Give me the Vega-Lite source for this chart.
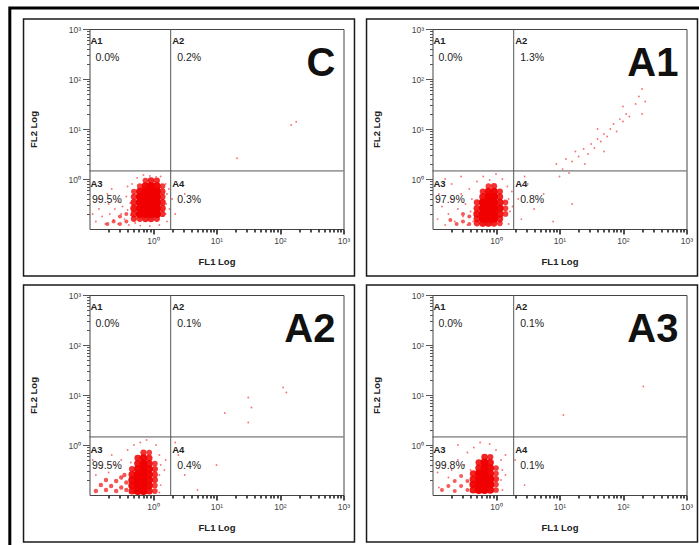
{
  "$schema": "https://vega.github.io/schema/vega-lite/v6.json",
  "padding": {"left": 7.5, "top": 5, "right": 0, "bottom": 0},
  "background": "white",
  "data": {"values": [
    {"p":"C","q":"A1","v":"0.0%"},{"p":"C","q":"A2","v":"0.2%"},{"p":"C","q":"A3","v":"99.5%"},{"p":"C","q":"A4","v":"0.3%"},
    {"p":"A1","q":"A1","v":"0.0%"},{"p":"A1","q":"A2","v":"1.3%"},{"p":"A1","q":"A3","v":"97.9%"},{"p":"A1","q":"A4","v":"0.8%"},
    {"p":"A2","q":"A1","v":"0.0%"},{"p":"A2","q":"A2","v":"0.1%"},{"p":"A2","q":"A3","v":"99.5%"},{"p":"A2","q":"A4","v":"0.4%"},
    {"p":"A3","q":"A1","v":"0.0%"},{"p":"A3","q":"A2","v":"0.1%"},{"p":"A3","q":"A3","v":"99.8%"},{"p":"A3","q":"A4","v":"0.1%"},

    {"p":"C","x":0.5,"y":0.16,"n":12},{"p":"C","x":0.62,"y":0.16,"n":12},{"p":"C","x":0.76,"y":0.16,"n":14},{"p":"C","x":0.93,"y":0.16,"n":14},{"p":"C","x":1.15,"y":0.16,"n":12},
    {"p":"C","x":0.5,"y":0.2,"n":14},{"p":"C","x":0.62,"y":0.2,"n":20},{"p":"C","x":0.76,"y":0.2,"n":20},{"p":"C","x":0.93,"y":0.2,"n":20},{"p":"C","x":1.15,"y":0.2,"n":20},{"p":"C","x":1.41,"y":0.2,"n":12},
    {"p":"C","x":0.5,"y":0.26,"n":16},{"p":"C","x":0.62,"y":0.26,"n":20},{"p":"C","x":0.76,"y":0.26,"n":20},{"p":"C","x":0.93,"y":0.26,"n":20},{"p":"C","x":1.15,"y":0.26,"n":20},{"p":"C","x":1.41,"y":0.26,"n":14},
    {"p":"C","x":0.5,"y":0.34,"n":14},{"p":"C","x":0.62,"y":0.34,"n":20},{"p":"C","x":0.76,"y":0.34,"n":20},{"p":"C","x":0.93,"y":0.34,"n":20},{"p":"C","x":1.15,"y":0.34,"n":20},{"p":"C","x":1.41,"y":0.34,"n":14},
    {"p":"C","x":0.5,"y":0.44,"n":12},{"p":"C","x":0.62,"y":0.44,"n":20},{"p":"C","x":0.76,"y":0.44,"n":20},{"p":"C","x":0.93,"y":0.44,"n":20},{"p":"C","x":1.15,"y":0.44,"n":20},{"p":"C","x":1.41,"y":0.44,"n":12},
    {"p":"C","x":0.5,"y":0.56,"n":10},{"p":"C","x":0.62,"y":0.56,"n":18},{"p":"C","x":0.76,"y":0.56,"n":20},{"p":"C","x":0.93,"y":0.56,"n":20},{"p":"C","x":1.15,"y":0.56,"n":20},{"p":"C","x":1.41,"y":0.56,"n":12},
    {"p":"C","x":0.62,"y":0.72,"n":10},{"p":"C","x":0.76,"y":0.72,"n":18},{"p":"C","x":0.93,"y":0.72,"n":20},{"p":"C","x":1.15,"y":0.72,"n":18},{"p":"C","x":1.41,"y":0.72,"n":10},
    {"p":"C","x":0.76,"y":0.93,"n":10},{"p":"C","x":0.93,"y":0.93,"n":14},{"p":"C","x":1.15,"y":0.93,"n":12},
    {"p":"C","x":0.38,"y":0.141,"n":5},{"p":"C","x":0.38,"y":0.2,"n":5},{"p":"C","x":0.302,"y":0.126,"n":5},{"p":"C","x":0.302,"y":0.178,"n":5},{"p":"C","x":0.24,"y":0.141,"n":5},{"p":"C","x":0.191,"y":0.126,"n":5},
    {"p":"C","x":0.126,"y":0.141,"n":1},{"p":"C","x":0.141,"y":0.251,"n":1},{"p":"C","x":0.158,"y":0.178,"n":1},{"p":"C","x":0.178,"y":0.126,"n":1},{"p":"C","x":0.2,"y":0.316,"n":1},
    {"p":"C","x":0.209,"y":0.2,"n":1},{"p":"C","x":0.24,"y":0.151,"n":1},{"p":"C","x":0.251,"y":0.251,"n":1},{"p":"C","x":0.282,"y":0.355,"n":1},{"p":"C","x":0.282,"y":0.126,"n":1},
    {"p":"C","x":0.316,"y":0.2,"n":1},{"p":"C","x":0.331,"y":0.282,"n":1},{"p":"C","x":0.355,"y":0.158,"n":1},{"p":"C","x":0.38,"y":0.447,"n":1},{"p":"C","x":0.398,"y":0.24,"n":1},
    {"p":"C","x":0.417,"y":0.12,"n":1},{"p":"C","x":0.437,"y":0.331,"n":1},{"p":"C","x":0.447,"y":0.191,"n":1},{"p":"C","x":0.398,"y":0.708,"n":1},{"p":"C","x":0.468,"y":0.794,"n":1},
    {"p":"C","x":0.562,"y":1.05,"n":1},{"p":"C","x":0.708,"y":1.2,"n":1},{"p":"C","x":0.891,"y":1.15,"n":1},{"p":"C","x":1.12,"y":1.1,"n":1},{"p":"C","x":1.32,"y":1.12,"n":1},
    {"p":"C","x":1.58,"y":0.794,"n":1},{"p":"C","x":1.66,"y":0.501,"n":1},{"p":"C","x":1.62,"y":0.316,"n":1},{"p":"C","x":1.58,"y":0.2,"n":1},{"p":"C","x":1.66,"y":0.141,"n":1},
    {"p":"C","x":1.78,"y":0.631,"n":1},{"p":"C","x":1.82,"y":0.251,"n":1},{"p":"C","x":1.26,"y":0.12,"n":1},{"p":"C","x":0.891,"y":0.115,"n":1},{"p":"C","x":0.631,"y":0.117,"n":1},
    {"p":"C","x":0.525,"y":0.132,"n":1},{"p":"C","x":0.191,"y":0.501,"n":1},{"p":"C","x":0.141,"y":0.398,"n":1},{"p":"C","x":0.112,"y":0.2,"n":1},{"p":"C","x":0.224,"y":0.631,"n":1},
    {"p":"C","x":2.0,"y":0.398,"n":1},{"p":"C","x":2.24,"y":0.2,"n":1},{"p":"C","x":3.16,"y":0.5,"n":1},{"p":"C","x":150,"y":12,"n":1},{"p":"C","x":21,"y":2.6,"n":1},{"p":"C","x":180,"y":14,"n":1},

    {"p":"A1","x":0.5,"y":0.13,"n":12},{"p":"A1","x":0.62,"y":0.13,"n":16},{"p":"A1","x":0.76,"y":0.13,"n":16},{"p":"A1","x":0.93,"y":0.13,"n":14},{"p":"A1","x":1.15,"y":0.13,"n":10},
    {"p":"A1","x":0.5,"y":0.16,"n":14},{"p":"A1","x":0.62,"y":0.16,"n":20},{"p":"A1","x":0.76,"y":0.16,"n":20},{"p":"A1","x":0.93,"y":0.16,"n":20},{"p":"A1","x":1.15,"y":0.16,"n":14},
    {"p":"A1","x":0.5,"y":0.2,"n":16},{"p":"A1","x":0.62,"y":0.2,"n":20},{"p":"A1","x":0.76,"y":0.2,"n":20},{"p":"A1","x":0.93,"y":0.2,"n":20},{"p":"A1","x":1.15,"y":0.2,"n":16},{"p":"A1","x":1.41,"y":0.2,"n":10},
    {"p":"A1","x":0.5,"y":0.26,"n":14},{"p":"A1","x":0.62,"y":0.26,"n":20},{"p":"A1","x":0.76,"y":0.26,"n":20},{"p":"A1","x":0.93,"y":0.26,"n":20},{"p":"A1","x":1.15,"y":0.26,"n":18},{"p":"A1","x":1.41,"y":0.26,"n":10},
    {"p":"A1","x":0.5,"y":0.34,"n":12},{"p":"A1","x":0.62,"y":0.34,"n":20},{"p":"A1","x":0.76,"y":0.34,"n":20},{"p":"A1","x":0.93,"y":0.34,"n":20},{"p":"A1","x":1.15,"y":0.34,"n":16},{"p":"A1","x":1.41,"y":0.34,"n":10},
    {"p":"A1","x":0.62,"y":0.44,"n":16},{"p":"A1","x":0.76,"y":0.44,"n":20},{"p":"A1","x":0.93,"y":0.44,"n":20},{"p":"A1","x":1.15,"y":0.44,"n":14},
    {"p":"A1","x":0.62,"y":0.56,"n":12},{"p":"A1","x":0.76,"y":0.56,"n":18},{"p":"A1","x":0.93,"y":0.56,"n":18},{"p":"A1","x":1.15,"y":0.56,"n":12},
    {"p":"A1","x":0.76,"y":0.72,"n":10},{"p":"A1","x":0.93,"y":0.72,"n":12},
    {"p":"A1","x":0.38,"y":0.126,"n":5},{"p":"A1","x":0.38,"y":0.178,"n":5},{"p":"A1","x":0.302,"y":0.141,"n":5},{"p":"A1","x":0.302,"y":0.2,"n":5},{"p":"A1","x":0.24,"y":0.126,"n":5},{"p":"A1","x":0.191,"y":0.151,"n":5},
    {"p":"A1","x":0.12,"y":0.158,"n":1},{"p":"A1","x":0.141,"y":0.282,"n":1},{"p":"A1","x":0.158,"y":0.12,"n":1},{"p":"A1","x":0.178,"y":0.2,"n":1},{"p":"A1","x":0.2,"y":0.398,"n":1},
    {"p":"A1","x":0.224,"y":0.141,"n":1},{"p":"A1","x":0.251,"y":0.251,"n":1},{"p":"A1","x":0.282,"y":0.501,"n":1},{"p":"A1","x":0.302,"y":0.178,"n":1},{"p":"A1","x":0.331,"y":0.316,"n":1},
    {"p":"A1","x":0.355,"y":0.12,"n":1},{"p":"A1","x":0.38,"y":0.631,"n":1},{"p":"A1","x":0.398,"y":0.224,"n":1},{"p":"A1","x":0.417,"y":0.398,"n":1},{"p":"A1","x":0.437,"y":0.141,"n":1},
    {"p":"A1","x":0.501,"y":0.891,"n":1},{"p":"A1","x":0.631,"y":1.12,"n":1},{"p":"A1","x":0.794,"y":0.955,"n":1},{"p":"A1","x":1,"y":1.26,"n":1},{"p":"A1","x":1.26,"y":1,"n":1},
    {"p":"A1","x":1.51,"y":0.708,"n":1},{"p":"A1","x":1.58,"y":0.398,"n":1},{"p":"A1","x":1.66,"y":0.224,"n":1},{"p":"A1","x":1.58,"y":0.126,"n":1},{"p":"A1","x":1.78,"y":0.562,"n":1},
    {"p":"A1","x":1.82,"y":0.282,"n":1},{"p":"A1","x":0.126,"y":0.501,"n":1},{"p":"A1","x":0.2,"y":0.794,"n":1},{"p":"A1","x":0.282,"y":1.12,"n":1},{"p":"A1","x":0.158,"y":1,"n":1},
    {"p":"A1","x":2.24,"y":0.398,"n":1},{"p":"A1","x":2.51,"y":0.158,"n":1},{"p":"A1","x":3.16,"y":0.794,"n":1},{"p":"A1","x":3.98,"y":0.251,"n":1},{"p":"A1","x":5.62,"y":0.501,"n":1},
    {"p":"A1","x":7.94,"y":0.141,"n":1},{"p":"A1","x":15.8,"y":0.316,"n":1},{"p":"A1","x":2.82,"y":1.12,"n":1},
    {"p":"A1","x":8.91,"y":2.0,"n":1},{"p":"A1","x":11.2,"y":1.58,"n":1},{"p":"A1","x":12.6,"y":2.51,"n":1},{"p":"A1","x":15.8,"y":2.24,"n":1},{"p":"A1","x":17.8,"y":3.55,"n":1},
    {"p":"A1","x":20,"y":2.82,"n":1},{"p":"A1","x":24,"y":3.98,"n":1},{"p":"A1","x":28.2,"y":3.16,"n":1},{"p":"A1","x":31.6,"y":5.01,"n":1},{"p":"A1","x":35.5,"y":4.17,"n":1},
    {"p":"A1","x":39.8,"y":6.31,"n":1},{"p":"A1","x":44.7,"y":5.62,"n":1},{"p":"A1","x":50.1,"y":7.94,"n":1},{"p":"A1","x":56.2,"y":7.08,"n":1},{"p":"A1","x":63.1,"y":10,"n":1},
    {"p":"A1","x":70.8,"y":12.6,"n":1},{"p":"A1","x":79.4,"y":8.91,"n":1},{"p":"A1","x":89.1,"y":15.8,"n":1},{"p":"A1","x":100,"y":14.1,"n":1},{"p":"A1","x":112,"y":20,"n":1},
    {"p":"A1","x":126,"y":17.8,"n":1},{"p":"A1","x":158,"y":31.6,"n":1},{"p":"A1","x":178,"y":44.7,"n":1},{"p":"A1","x":200,"y":63.1,"n":1},{"p":"A1","x":224,"y":35.5,"n":1},
    {"p":"A1","x":200,"y":20,"n":1},{"p":"A1","x":25.1,"y":2.0,"n":1},{"p":"A1","x":50.1,"y":3.55,"n":1},{"p":"A1","x":10,"y":1.12,"n":1},{"p":"A1","x":14.1,"y":1.32,"n":1},
    {"p":"A1","x":100,"y":28.2,"n":1},{"p":"A1","x":39.8,"y":10,"n":1},

    {"p":"A2","x":0.468,"y":0.12,"n":16},{"p":"A2","x":0.575,"y":0.12,"n":20},{"p":"A2","x":0.708,"y":0.12,"n":20},{"p":"A2","x":0.871,"y":0.12,"n":16},{"p":"A2","x":1.07,"y":0.12,"n":10},
    {"p":"A2","x":0.468,"y":0.155,"n":18},{"p":"A2","x":0.575,"y":0.155,"n":20},{"p":"A2","x":0.708,"y":0.155,"n":20},{"p":"A2","x":0.871,"y":0.155,"n":18},{"p":"A2","x":1.07,"y":0.155,"n":10},
    {"p":"A2","x":0.468,"y":0.2,"n":18},{"p":"A2","x":0.575,"y":0.2,"n":20},{"p":"A2","x":0.708,"y":0.2,"n":20},{"p":"A2","x":0.871,"y":0.2,"n":18},{"p":"A2","x":1.07,"y":0.2,"n":12},
    {"p":"A2","x":0.468,"y":0.257,"n":16},{"p":"A2","x":0.575,"y":0.257,"n":20},{"p":"A2","x":0.708,"y":0.257,"n":20},{"p":"A2","x":0.871,"y":0.257,"n":18},{"p":"A2","x":1.07,"y":0.257,"n":12},
    {"p":"A2","x":0.468,"y":0.331,"n":12},{"p":"A2","x":0.575,"y":0.331,"n":18},{"p":"A2","x":0.708,"y":0.331,"n":20},{"p":"A2","x":0.871,"y":0.331,"n":18},{"p":"A2","x":1.07,"y":0.331,"n":12},
    {"p":"A2","x":0.575,"y":0.427,"n":16},{"p":"A2","x":0.708,"y":0.427,"n":20},{"p":"A2","x":0.871,"y":0.427,"n":16},{"p":"A2","x":1.07,"y":0.427,"n":10},
    {"p":"A2","x":0.575,"y":0.55,"n":14},{"p":"A2","x":0.708,"y":0.55,"n":18},{"p":"A2","x":0.871,"y":0.55,"n":14},
    {"p":"A2","x":0.708,"y":0.708,"n":12},{"p":"A2","x":0.871,"y":0.708,"n":10},
    {"p":"A2","x":0.38,"y":0.126,"n":6},{"p":"A2","x":0.38,"y":0.178,"n":6},{"p":"A2","x":0.316,"y":0.141,"n":6},{"p":"A2","x":0.316,"y":0.224,"n":6},{"p":"A2","x":0.263,"y":0.12,"n":6},{"p":"A2","x":0.263,"y":0.191,"n":6},
    {"p":"A2","x":0.219,"y":0.151,"n":6},{"p":"A2","x":0.182,"y":0.126,"n":6},{"p":"A2","x":0.182,"y":0.2,"n":6},{"p":"A2","x":0.151,"y":0.158,"n":6},{"p":"A2","x":0.126,"y":0.12,"n":6},{"p":"A2","x":0.355,"y":0.251,"n":6},
    {"p":"A2","x":0.126,"y":0.251,"n":1},{"p":"A2","x":0.158,"y":0.355,"n":1},{"p":"A2","x":0.2,"y":0.282,"n":1},{"p":"A2","x":0.251,"y":0.398,"n":1},{"p":"A2","x":0.316,"y":0.501,"n":1},
    {"p":"A2","x":0.398,"y":0.794,"n":1},{"p":"A2","x":0.501,"y":1,"n":1},{"p":"A2","x":0.631,"y":1.12,"n":1},{"p":"A2","x":0.794,"y":1.26,"n":1},{"p":"A2","x":1.12,"y":1,"n":1},
    {"p":"A2","x":1.26,"y":0.631,"n":1},{"p":"A2","x":1.32,"y":0.398,"n":1},{"p":"A2","x":1.26,"y":0.251,"n":1},{"p":"A2","x":1.32,"y":0.158,"n":1},{"p":"A2","x":1.26,"y":0.112,"n":1},
    {"p":"A2","x":1.51,"y":0.316,"n":1},{"p":"A2","x":1.58,"y":0.501,"n":1},{"p":"A2","x":0.112,"y":0.501,"n":1},{"p":"A2","x":0.224,"y":0.631,"n":1},{"p":"A2","x":0.447,"y":0.447,"n":1},
    {"p":"A2","x":2.51,"y":0.631,"n":1},{"p":"A2","x":3.16,"y":0.251,"n":1},{"p":"A2","x":5.01,"y":0.126,"n":1},{"p":"A2","x":10,"y":0.398,"n":1},{"p":"A2","x":2.24,"y":1.12,"n":1},
    {"p":"A2","x":13.5,"y":4.37,"n":1},{"p":"A2","x":31.6,"y":8.91,"n":1},{"p":"A2","x":31.6,"y":2.82,"n":1},{"p":"A2","x":112,"y":14.1,"n":1},{"p":"A2","x":35.5,"y":5.62,"n":1},{"p":"A2","x":126,"y":11.2,"n":1},

    {"p":"A3","x":0.437,"y":0.126,"n":16},{"p":"A3","x":0.537,"y":0.126,"n":20},{"p":"A3","x":0.661,"y":0.126,"n":20},{"p":"A3","x":0.813,"y":0.126,"n":18},{"p":"A3","x":1,"y":0.126,"n":10},
    {"p":"A3","x":0.437,"y":0.162,"n":18},{"p":"A3","x":0.537,"y":0.162,"n":20},{"p":"A3","x":0.661,"y":0.162,"n":20},{"p":"A3","x":0.813,"y":0.162,"n":20},{"p":"A3","x":1,"y":0.162,"n":10},
    {"p":"A3","x":0.437,"y":0.209,"n":16},{"p":"A3","x":0.537,"y":0.209,"n":20},{"p":"A3","x":0.661,"y":0.209,"n":20},{"p":"A3","x":0.813,"y":0.209,"n":20},{"p":"A3","x":1,"y":0.209,"n":12},
    {"p":"A3","x":0.437,"y":0.269,"n":14},{"p":"A3","x":0.537,"y":0.269,"n":20},{"p":"A3","x":0.661,"y":0.269,"n":20},{"p":"A3","x":0.813,"y":0.269,"n":18},{"p":"A3","x":1,"y":0.269,"n":10},
    {"p":"A3","x":0.537,"y":0.347,"n":16},{"p":"A3","x":0.661,"y":0.347,"n":20},{"p":"A3","x":0.813,"y":0.347,"n":18},{"p":"A3","x":1,"y":0.347,"n":10},
    {"p":"A3","x":0.537,"y":0.447,"n":14},{"p":"A3","x":0.661,"y":0.447,"n":20},{"p":"A3","x":0.813,"y":0.447,"n":16},
    {"p":"A3","x":0.661,"y":0.575,"n":14},{"p":"A3","x":0.813,"y":0.575,"n":12},
    {"p":"A3","x":0.355,"y":0.126,"n":5},{"p":"A3","x":0.355,"y":0.191,"n":5},{"p":"A3","x":0.282,"y":0.151,"n":5},{"p":"A3","x":0.282,"y":0.24,"n":5},{"p":"A3","x":0.224,"y":0.12,"n":5},{"p":"A3","x":0.224,"y":0.191,"n":5},
    {"p":"A3","x":0.178,"y":0.151,"n":5},{"p":"A3","x":0.141,"y":0.126,"n":5},
    {"p":"A3","x":0.12,"y":0.282,"n":1},{"p":"A3","x":0.158,"y":0.398,"n":1},{"p":"A3","x":0.2,"y":0.316,"n":1},{"p":"A3","x":0.251,"y":0.501,"n":1},{"p":"A3","x":0.316,"y":0.398,"n":1},
    {"p":"A3","x":0.355,"y":0.708,"n":1},{"p":"A3","x":0.447,"y":0.891,"n":1},{"p":"A3","x":0.562,"y":1.12,"n":1},{"p":"A3","x":0.794,"y":1.05,"n":1},{"p":"A3","x":1,"y":0.794,"n":1},
    {"p":"A3","x":1.2,"y":0.501,"n":1},{"p":"A3","x":1.26,"y":0.316,"n":1},{"p":"A3","x":1.2,"y":0.2,"n":1},{"p":"A3","x":1.26,"y":0.126,"n":1},{"p":"A3","x":1.41,"y":0.631,"n":1},
    {"p":"A3","x":0.126,"y":0.141,"n":1},{"p":"A3","x":0.178,"y":0.224,"n":1},{"p":"A3","x":0.398,"y":0.316,"n":1},{"p":"A3","x":1.41,"y":0.251,"n":1},{"p":"A3","x":0.251,"y":1,"n":1},
    {"p":"A3","x":2.0,"y":0.501,"n":1},{"p":"A3","x":2.82,"y":0.158,"n":1},{"p":"A3","x":11.5,"y":3.98,"n":1},{"p":"A3","x":209,"y":14.8,"n":1}
  ]},
  "facet": {"field": "p", "type": "nominal", "title": null, "sort": ["C", "A1", "A2", "A3"], "header": {"title": null, "labels": false, "labelExpr": "''", "labelFontSize": 1, "labelPadding": 0}},
  "columns": 2,
  "spacing": {"row": 66, "column": 89},
  "bounds": "flush",
  "resolve": {"axis": {"x": "independent", "y": "independent"}},
  "spec": {
    "width": 254,
    "height": 200,
    "layer": [
      {
        "transform": [{"filter": "datum.q == 'A1'"}],
        "mark": {"type": "rect", "filled": false, "color": "#1a1a1a", "strokeWidth": 1.5},
        "encoding": {
          "x": {"datum": 0.00914, "type": "quantitative"},
          "x2": {"datum": 1489},
          "y": {"datum": 1585, "type": "quantitative"},
          "y2": {"datum": 0.01148}
        }
      },
      {
        "transform": [{"filter": "datum.q == 'A1' && datum.p == 'C'"}],
        "mark": {"type": "rect", "filled": false, "color": "#000000", "strokeWidth": 3},
        "encoding": {
          "x": {"datum": 0.00556, "type": "quantitative"},
          "x2": {"datum": 800000000},
          "y": {"datum": 2630, "type": "quantitative"},
          "y2": {"datum": 0.000000024}
        }
      },
      {
        "transform": [{"filter": "datum.n > 0"}],
        "mark": {"type": "circle", "color": "#f00000"},
        "encoding": {
          "x": {
            "field": "x", "type": "quantitative",
            "scale": {"type": "log", "domain": [0.1, 1000], "nice": false},
            "axis": {
              "title": "FL1 Log",
              "values": [0.2,0.3,0.4,0.5,0.6,0.7,0.8,0.9,1,2,3,4,5,6,7,8,9,10,20,30,40,50,60,70,80,90,100,200,300,400,500,600,700,800,900,1000],
              "labelExpr": "datum.value==1?'10⁰':datum.value==10?'10¹':datum.value==100?'10²':datum.value==1000?'10³':''",
              "tickSize": {"condition": {"test": "datum.value==1||datum.value==10||datum.value==100||datum.value==1000", "value": 5}, "value": 3},
              "tickWidth": 1.6, "tickColor": "#222222",
              "labelFontSize": 8.5, "labelColor": "#444444", "labelPadding": 2,
              "labelOverlap": false, "labelFlush": false, "labelBound": false,
              "grid": false, "domain": false,
              "titleFontSize": 9.5, "titleFontWeight": "bold", "titleColor": "#222222", "titlePadding": 12
            }
          },
          "y": {
            "field": "y", "type": "quantitative",
            "scale": {"type": "log", "domain": [0.1, 1000], "nice": false},
            "axis": {
              "title": "FL2 Log",
              "values": [0.2,0.3,0.4,0.5,0.6,0.7,0.8,0.9,1,2,3,4,5,6,7,8,9,10,20,30,40,50,60,70,80,90,100,200,300,400,500,600,700,800,900,1000],
              "labelExpr": "datum.value==1?'10⁰':datum.value==10?'10¹':datum.value==100?'10²':datum.value==1000?'10³':''",
              "tickSize": {"condition": {"test": "datum.value==1||datum.value==10||datum.value==100||datum.value==1000", "value": 7}, "value": 3},
              "tickWidth": 1, "tickColor": "#555555",
              "labelFontSize": 8.5, "labelColor": "#444444", "labelPadding": 2,
              "labelOverlap": false, "labelFlush": false, "labelBound": false,
              "grid": false, "domain": false,
              "titleFontSize": 9.5, "titleFontWeight": "bold", "titleColor": "#222222", "titlePadding": 30
            }
          },
          "size": {"field": "n", "type": "quantitative", "scale": {"domain": [1, 20], "range": [3.5, 64]}, "legend": null},
          "opacity": {"field": "n", "type": "quantitative", "scale": {"domain": [1, 20], "range": [0.55, 1]}, "legend": null}
        }
      },
      {
        "transform": [{"filter": "datum.q == 'A1'"}],
        "mark": {"type": "rule", "color": "#555555", "strokeWidth": 1},
        "encoding": {"x": {"datum": 1.9, "type": "quantitative"}, "y": {"datum": 0.1, "type": "quantitative"}, "y2": {"datum": 1000}}
      },
      {
        "transform": [{"filter": "datum.q == 'A1'"}],
        "mark": {"type": "rule", "color": "#555555", "strokeWidth": 1},
        "encoding": {"y": {"datum": 1.45, "type": "quantitative"}, "x": {"datum": 0.1, "type": "quantitative"}, "x2": {"datum": 1000}}
      },
      {
        "transform": [{"filter": "datum.q == 'A1'"}],
        "mark": {"type": "text", "align": "left", "baseline": "alphabetic", "font": "Liberation Sans", "fontSize": 9.5, "fontWeight": "bold", "color": "#222222", "dx": 1, "dy": 15},
        "encoding": {"x": {"datum": 0.1, "type": "quantitative"}, "y": {"datum": 1000, "type": "quantitative"}, "text": {"field": "q"}}
      },
      {
        "transform": [{"filter": "datum.q == 'A1'"}],
        "mark": {"type": "text", "align": "left", "baseline": "alphabetic", "font": "Liberation Sans", "fontSize": 10.5, "color": "#222222", "dx": 6, "dy": 32},
        "encoding": {"x": {"datum": 0.1, "type": "quantitative"}, "y": {"datum": 1000, "type": "quantitative"}, "text": {"field": "v"}}
      },
      {
        "transform": [{"filter": "datum.q == 'A2'"}],
        "mark": {"type": "text", "align": "left", "baseline": "alphabetic", "font": "Liberation Sans", "fontSize": 9.5, "fontWeight": "bold", "color": "#222222", "dx": 1.5, "dy": 15},
        "encoding": {"x": {"datum": 1.9, "type": "quantitative"}, "y": {"datum": 1000, "type": "quantitative"}, "text": {"field": "q"}}
      },
      {
        "transform": [{"filter": "datum.q == 'A2'"}],
        "mark": {"type": "text", "align": "left", "baseline": "alphabetic", "font": "Liberation Sans", "fontSize": 10.5, "color": "#222222", "dx": 6.5, "dy": 32},
        "encoding": {"x": {"datum": 1.9, "type": "quantitative"}, "y": {"datum": 1000, "type": "quantitative"}, "text": {"field": "v"}}
      },
      {
        "transform": [{"filter": "datum.q == 'A3'"}],
        "mark": {"type": "text", "align": "left", "baseline": "alphabetic", "font": "Liberation Sans", "fontSize": 9.5, "fontWeight": "bold", "color": "#222222", "dx": 1, "dy": 16},
        "encoding": {"x": {"datum": 0.1, "type": "quantitative"}, "y": {"datum": 1.45, "type": "quantitative"}, "text": {"field": "q"}}
      },
      {
        "transform": [{"filter": "datum.q == 'A3'"}],
        "mark": {"type": "text", "align": "left", "baseline": "alphabetic", "font": "Liberation Sans", "fontSize": 10.5, "color": "#222222", "dx": 2.5, "dy": 32},
        "encoding": {"x": {"datum": 0.1, "type": "quantitative"}, "y": {"datum": 1.45, "type": "quantitative"}, "text": {"field": "v"}}
      },
      {
        "transform": [{"filter": "datum.q == 'A4'"}],
        "mark": {"type": "text", "align": "left", "baseline": "alphabetic", "font": "Liberation Sans", "fontSize": 9.5, "fontWeight": "bold", "color": "#222222", "dx": 1.5, "dy": 16},
        "encoding": {"x": {"datum": 1.9, "type": "quantitative"}, "y": {"datum": 1.45, "type": "quantitative"}, "text": {"field": "q"}}
      },
      {
        "transform": [{"filter": "datum.q == 'A4'"}],
        "mark": {"type": "text", "align": "left", "baseline": "alphabetic", "font": "Liberation Sans", "fontSize": 10.5, "color": "#222222", "dx": 6.5, "dy": 32},
        "encoding": {"x": {"datum": 1.9, "type": "quantitative"}, "y": {"datum": 1.45, "type": "quantitative"}, "text": {"field": "v"}}
      },
      {
        "transform": [{"filter": "datum.q == 'A1'"}],
        "mark": {"type": "text", "align": "right", "baseline": "alphabetic", "font": "Liberation Sans", "fontSize": 40, "fontWeight": "bold", "color": "#111111", "dx": -8, "dy": 47},
        "encoding": {"x": {"datum": 1000, "type": "quantitative"}, "y": {"datum": 1000, "type": "quantitative"}, "text": {"field": "p"}}
      }
    ]
  },
  "config": {
    "view": {"stroke": "#444444", "strokeWidth": 1},
    "font": "Liberation Sans",
    "header": {"labels": false, "title": null, "labelExpr": "''", "labelFontSize": 1, "labelPadding": 0},
    "headerFacet": {"labels": false, "title": null, "labelExpr": "''", "labelFontSize": 1, "labelPadding": 0}
  }
}
